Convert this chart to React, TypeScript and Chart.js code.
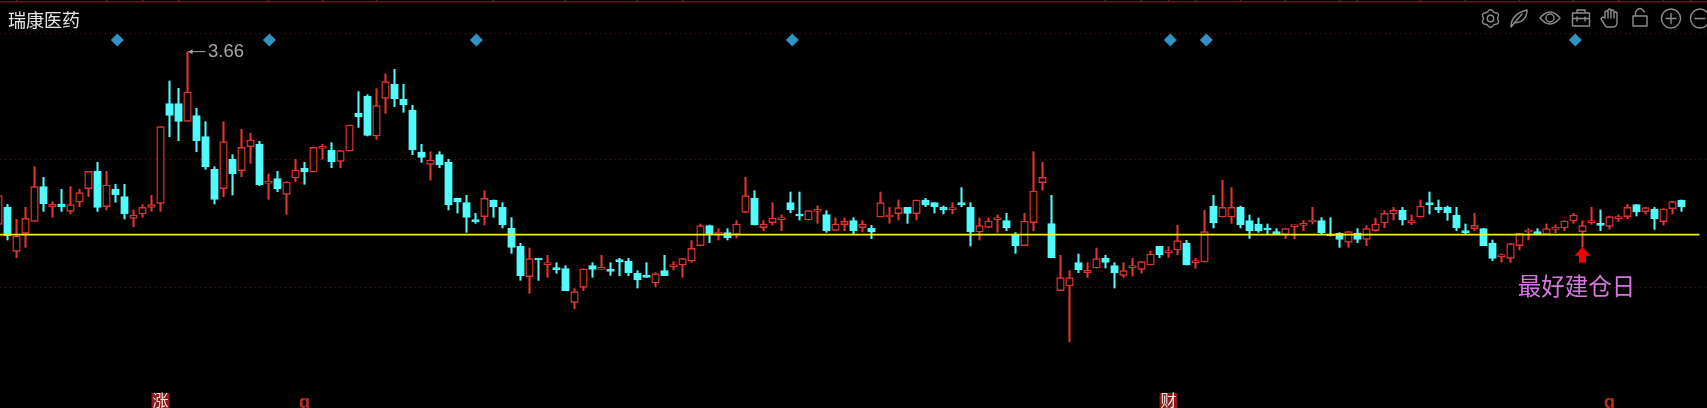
import React, { useEffect, useRef } from "react";
import { Chart, registerables } from "chart.js";

Chart.register(...registerables);

const stockName = "瑞康医药";
const signalText = "最好建仓日";

const opens = [
3.142,3.193,3.061,3.115,3.151,3.255,3.195,3.203,3.181,3.209,3.249,3.301,3.195,3.247,3.225,3.160,3.173,3.193,3.205,3.504,
3.504,3.451,3.468,3.405,3.307,3.249,3.337,3.303,3.375,3.382,3.265,3.279,3.232,3.281,3.311,3.299,3.370,3.364,3.331,3.362,
3.476,3.527,3.407,3.520,3.562,3.517,3.485,3.359,3.322,3.351,3.328,3.220,3.207,3.153,3.165,3.215,3.193,3.130,3.076,2.985,
3.040,3.021,3.010,3.009,2.908,2.953,3.018,3.007,3.005,3.033,3.031,2.995,2.987,2.966,3.003,3.015,3.020,3.032,3.078,3.138,
3.113,3.117,3.112,3.178,3.220,3.132,3.147,3.156,3.207,3.171,3.155,3.181,3.171,3.124,3.141,3.153,3.132,3.130,3.164,3.164,
3.174,3.193,3.174,3.215,3.207,3.193,3.186,3.207,3.193,3.119,3.133,3.156,3.153,3.109,3.078,3.147,3.267,3.144,2.943,2.957,
3.027,2.997,3.011,3.040,3.018,2.989,3.012,3.007,3.020,3.076,3.057,3.065,3.086,3.027,3.029,3.197,3.164,3.164,3.193,3.153,
3.143,3.129,3.120,3.111,3.135,3.139,3.149,3.153,3.110,3.115,3.088,3.116,3.097,3.123,3.146,3.173,3.184,3.147,3.164,3.207,
3.193,3.193,3.170,3.120,3.129,3.129,3.086,3.045,3.040,3.078,3.119,3.120,3.112,3.127,3.131,3.152,3.120,3.147,3.143,3.136,
3.159,3.165,3.201,3.180,3.188,3.150,3.189,3.215,
];

const closes = [
3.228,3.107,3.107,3.160,3.255,3.204,3.202,3.195,3.201,3.237,3.301,3.193,3.260,3.231,3.173,3.170,3.193,3.201,3.435,3.469,
3.451,3.539,3.393,3.315,3.217,3.390,3.294,3.373,3.395,3.261,3.270,3.249,3.269,3.305,3.299,3.373,3.375,3.330,3.363,3.440,
3.465,3.409,3.498,3.570,3.519,3.500,3.365,3.343,3.335,3.320,3.200,3.209,3.163,3.150,3.220,3.195,3.140,3.073,2.988,3.039,
3.035,3.027,3.006,2.943,2.940,3.008,3.007,3.011,3.001,3.030,2.997,2.975,2.983,2.994,2.988,3.019,3.039,3.070,3.138,3.112,
3.117,3.102,3.143,3.228,3.140,3.143,3.161,3.161,3.185,3.167,3.183,3.185,3.123,3.143,3.151,3.123,3.143,3.119,3.207,3.170,
3.192,3.175,3.215,3.200,3.195,3.185,3.192,3.200,3.119,3.138,3.152,3.161,3.131,3.078,3.152,3.242,3.283,3.042,2.982,2.982,
3.006,3.004,3.039,3.028,2.996,3.003,3.018,3.030,3.053,3.051,3.063,3.093,3.020,3.031,3.120,3.146,3.193,3.193,3.140,3.123,
3.122,3.125,3.112,3.129,3.139,3.143,3.153,3.117,3.107,3.097,3.120,3.097,3.129,3.143,3.175,3.184,3.155,3.153,3.197,3.201,
3.185,3.177,3.131,3.117,3.139,3.078,3.040,3.049,3.084,3.115,3.123,3.112,3.129,3.131,3.152,3.170,3.138,3.152,3.139,3.165,
3.163,3.193,3.179,3.192,3.159,3.188,3.210,3.195,
];

const highs = [
3.235,3.202,3.157,3.193,3.315,3.283,3.210,3.247,3.255,3.247,3.301,3.328,3.301,3.262,3.262,3.185,3.201,3.229,3.435,3.572,
3.550,3.660,3.490,3.450,3.315,3.450,3.351,3.427,3.415,3.391,3.293,3.301,3.270,3.337,3.328,3.373,3.382,3.387,3.364,3.440,
3.540,3.531,3.549,3.593,3.607,3.562,3.499,3.382,3.360,3.360,3.337,3.220,3.229,3.175,3.243,3.215,3.207,3.162,3.085,3.071,
3.040,3.049,3.027,3.018,2.949,3.009,3.027,3.049,3.027,3.040,3.040,3.003,3.027,2.997,3.049,3.030,3.040,3.093,3.143,3.140,
3.129,3.129,3.153,3.283,3.243,3.153,3.207,3.170,3.239,3.239,3.183,3.197,3.183,3.161,3.161,3.162,3.153,3.139,3.239,3.193,
3.215,3.193,3.215,3.220,3.207,3.197,3.207,3.252,3.207,3.161,3.161,3.170,3.175,3.117,3.175,3.360,3.328,3.229,3.049,3.003,
3.053,3.027,3.071,3.049,3.027,3.027,3.040,3.031,3.062,3.076,3.075,3.139,3.094,3.040,3.184,3.229,3.274,3.252,3.197,3.170,
3.161,3.143,3.129,3.129,3.139,3.153,3.193,3.162,3.162,3.117,3.121,3.129,3.138,3.161,3.183,3.193,3.193,3.170,3.215,3.239,
3.215,3.197,3.193,3.143,3.175,3.130,3.095,3.053,3.085,3.115,3.129,3.129,3.143,3.140,3.153,3.175,3.153,3.193,3.185,3.167,
3.170,3.202,3.201,3.193,3.193,3.189,3.211,3.215,
];

const lows = [
3.135,3.095,3.042,3.073,3.151,3.181,3.163,3.181,3.173,3.195,3.225,3.181,3.185,3.208,3.158,3.135,3.163,3.181,3.181,3.405,
3.393,3.451,3.360,3.307,3.203,3.225,3.230,3.285,3.325,3.258,3.217,3.240,3.172,3.270,3.262,3.299,3.337,3.312,3.312,3.362,
3.433,3.407,3.397,3.475,3.495,3.478,3.351,3.328,3.275,3.312,3.185,3.176,3.118,3.145,3.140,3.163,3.131,3.055,2.974,2.935,
2.974,2.983,2.995,2.943,2.889,2.943,2.983,3.007,2.989,2.988,2.988,2.951,2.983,2.955,2.988,3.005,2.983,3.028,3.078,3.087,
3.095,3.095,3.101,3.178,3.140,3.123,3.140,3.123,3.177,3.155,3.155,3.145,3.118,3.124,3.123,3.112,3.119,3.099,3.164,3.145,
3.155,3.145,3.155,3.195,3.176,3.173,3.173,3.195,3.077,3.095,3.132,3.118,3.123,3.055,3.078,3.123,3.244,3.042,2.943,2.789,
2.997,2.983,3.011,3.011,2.951,2.983,2.987,2.996,3.020,3.042,3.043,3.051,3.020,3.010,3.029,3.131,3.164,3.145,3.131,3.100,
3.118,3.112,3.112,3.099,3.099,3.123,3.143,3.112,3.107,3.073,3.073,3.087,3.078,3.121,3.132,3.155,3.140,3.141,3.164,3.173,
3.177,3.154,3.123,3.112,3.123,3.078,3.033,3.028,3.028,3.065,3.095,3.112,3.112,3.117,3.123,3.145,3.075,3.142,3.123,3.127,
3.151,3.159,3.167,3.173,3.127,3.140,3.173,3.181,
];

const diamondPositions = [13.2, 30.1, 53.1, 88.2, 130.2, 134.2, 175.2];
const diamondLevel = 3.695;
const supportLevel = 3.111;
const supportEnd = 189;
const gridLevels = [3.714, 3.336, 2.954];
const rulerLevel = 3.81;
const rulerTop = 3.815;
const rulerTicks = [2,12,16,20,30,36,42,55,63,71,76,123,127,130,133,138,143,149,151,158,163,169,175,180,185,188];
const signalIndex = 176;
const bottomMarks = [
  { index: 18, label: "涨", boxed: true },
  { index: 34, label: "g", boxed: false },
  { index: 130, label: "财", boxed: true },
  { index: 179, label: "g", boxed: false },
];

const RED = "#e2352f";
const CYAN = "#52fbfb";
const CJK = '"Noto Sans CJK SC", "Noto Sans", sans-serif';

function drawIcons(ctx: CanvasRenderingContext2D) {
  ctx.save();
  ctx.strokeStyle = "#8c8c8c";
  ctx.lineWidth = 1.4;
  ctx.lineJoin = "round";
  ctx.lineCap = "round";
  const path = (fn: () => void) => {
    ctx.beginPath();
    fn();
    ctx.stroke();
  };
  // gear
  path(() => {
    for (let a = 0; a <= 360; a += 6) {
      const t = (a * Math.PI) / 180;
      const r = 8 + 0.9 * Math.cos(6 * t);
      const x = 1490.5 + r * Math.cos(t + Math.PI / 2);
      const y = 18.5 + r * Math.sin(t + Math.PI / 2);
      if (a === 0) ctx.moveTo(x, y);
      else ctx.lineTo(x, y);
    }
    ctx.closePath();
  });
  path(() => ctx.arc(1490.5, 18.5, 3.2, 0, Math.PI * 2));
  // feather
  path(() => {
    ctx.moveTo(1511, 27);
    ctx.quadraticCurveTo(1511, 14, 1527, 10);
    ctx.quadraticCurveTo(1527, 22, 1514, 23);
    ctx.moveTo(1511, 27);
    ctx.lineTo(1522, 14);
  });
  // eye
  path(() => {
    ctx.moveTo(1540, 18);
    ctx.quadraticCurveTo(1550, 6, 1560, 18);
    ctx.quadraticCurveTo(1550, 30, 1540, 18);
  });
  path(() => ctx.arc(1550, 18, 4, 0, Math.PI * 2));
  // toolbox
  path(() => {
    ctx.rect(1572.5, 13, 17, 13);
    ctx.moveTo(1577, 13);
    ctx.lineTo(1577, 10);
    ctx.lineTo(1585, 10);
    ctx.lineTo(1585, 13);
    ctx.moveTo(1572.5, 18.5);
    ctx.lineTo(1589.5, 18.5);
    ctx.moveTo(1577, 17);
    ctx.lineTo(1577, 21);
    ctx.moveTo(1585, 17);
    ctx.lineTo(1585, 21);
  });
  // hand
  path(() => {
    ctx.moveTo(1606, 27);
    ctx.quadraticCurveTo(1603, 22, 1601, 19);
    ctx.quadraticCurveTo(1602, 16, 1605, 18);
    ctx.lineTo(1605, 12);
    ctx.quadraticCurveTo(1606.5, 10, 1608, 12);
    ctx.lineTo(1608, 18);
    ctx.lineTo(1608, 10);
    ctx.quadraticCurveTo(1609.5, 8, 1611, 10);
    ctx.lineTo(1611, 18);
    ctx.lineTo(1611, 11);
    ctx.quadraticCurveTo(1612.5, 9, 1614, 11);
    ctx.lineTo(1614, 18);
    ctx.lineTo(1614, 13);
    ctx.quadraticCurveTo(1615.5, 11, 1617, 13);
    ctx.lineTo(1617, 22);
    ctx.quadraticCurveTo(1617, 27, 1613, 27);
    ctx.lineTo(1606, 27);
  });
  // lock
  path(() => {
    ctx.rect(1633, 16, 14, 10);
    ctx.moveTo(1635.5, 16);
    ctx.lineTo(1635.5, 12);
    ctx.quadraticCurveTo(1640, 5, 1644.5, 12);
  });
  // plus and minus
  path(() => ctx.arc(1671, 18.5, 9.5, 0, Math.PI * 2));
  path(() => {
    ctx.moveTo(1666, 18.5);
    ctx.lineTo(1676, 18.5);
    ctx.moveTo(1671, 13.5);
    ctx.lineTo(1671, 23.5);
  });
  path(() => ctx.arc(1700, 18.5, 9.5, 0, Math.PI * 2));
  path(() => {
    ctx.moveTo(1695, 18.5);
    ctx.lineTo(1705, 18.5);
  });
  ctx.restore();
}

const annotations = {
  id: "annotations",
  afterDatasetsDraw(chart: any) {
    const { ctx, scales } = chart;
    const xs = scales.x;
    const ys = scales.y;
    ctx.save();

    // stock name
    ctx.fillStyle = "#e6e6e6";
    ctx.font = `18px ${CJK}`;
    ctx.textBaseline = "middle";
    ctx.textAlign = "left";
    ctx.fillText(stockName, 8, 20);

    // highest price callout
    const peak = Math.max(...highs);
    const peakIndex = highs.indexOf(peak);
    const px = xs.getPixelForValue(peakIndex);
    const py = ys.getPixelForValue(peak);
    ctx.strokeStyle = "#a8a8a8";
    ctx.fillStyle = "#a8a8a8";
    ctx.lineWidth = 1;
    ctx.beginPath();
    ctx.moveTo(px + 1, py);
    ctx.lineTo(px + 18, py);
    ctx.stroke();
    ctx.beginPath();
    ctx.moveTo(px + 1, py);
    ctx.lineTo(px + 5, py - 2.5);
    ctx.lineTo(px + 5, py + 2.5);
    ctx.closePath();
    ctx.fill();
    ctx.font = '18.5px "Liberation Sans", sans-serif';
    ctx.fillText(peak.toFixed(2), px + 20.5, py);

    // signal arrow and caption
    const sx = xs.getPixelForValue(signalIndex);
    const tip = ys.getPixelForValue(lows[signalIndex]) + 1;
    ctx.fillStyle = "#f00000";
    ctx.beginPath();
    ctx.moveTo(sx, tip - 1);
    ctx.lineTo(sx + 8, tip + 8);
    ctx.lineTo(sx + 3.5, tip + 8);
    ctx.lineTo(sx + 3.5, tip + 15);
    ctx.lineTo(sx - 3.5, tip + 15);
    ctx.lineTo(sx - 3.5, tip + 8);
    ctx.lineTo(sx - 8, tip + 8);
    ctx.closePath();
    ctx.fill();
    ctx.fillStyle = "#d478dc";
    ctx.font = `23.5px ${CJK}`;
    ctx.textAlign = "center";
    ctx.fillText(signalText, sx - 6, 286);

    // bottom marks, cut off by the lower edge of the picture
    for (const mark of bottomMarks) {
      const mx = xs.getPixelForValue(mark.index);
      if (mark.boxed) {
        ctx.fillStyle = "#8e1717";
        ctx.fillRect(mx - 9, 393, 18, 16);
        ctx.fillStyle = "#f4e4e4";
        ctx.font = `16px ${CJK}`;
        ctx.textAlign = "center";
        ctx.textBaseline = "top";
        ctx.fillText(mark.label, mx, 392);
      } else {
        ctx.fillStyle = "#c42a2a";
        ctx.font = 'bold 18px "Liberation Sans", sans-serif';
        ctx.textAlign = "center";
        ctx.textBaseline = "alphabetic";
        ctx.fillText(mark.label, mx, 408);
      }
    }
    ctx.restore();
    drawIcons(ctx);
  },
};

export default function App() {
  const ref = useRef<HTMLCanvasElement>(null);
  useEffect(() => {
    const indices = opens.map((_, i) => i);
    const colors = indices.map((i) => (closes[i] >= opens[i] ? RED : CYAN));
    const fills = indices.map((i) => (closes[i] >= opens[i] ? "#000000" : CYAN));
    const chart = new Chart(ref.current as HTMLCanvasElement, {
      type: "bar",
      data: {
        datasets: [
          {
            type: "line",
            label: "support",
            data: [
              { x: 0, y: supportLevel },
              { x: supportEnd, y: supportLevel },
            ],
            borderColor: "#f0f020",
            borderWidth: 1.6,
            pointRadius: 0,
            order: 0,
          },
          {
            type: "scatter",
            label: "signals",
            data: diamondPositions.map((x) => ({ x, y: diamondLevel })),
            pointStyle: "rectRot",
            pointRadius: 6.5,
            backgroundColor: "#2f93c4",
            borderWidth: 0,
            showLine: false,
            order: 1,
          },
          {
            type: "bar",
            label: "bodies",
            data: indices.map((i) => ({ x: i, y: [opens[i], closes[i]] })),
            backgroundColor: fills,
            borderColor: colors,
            borderWidth: 1.4,
            borderSkipped: false,
            barThickness: 7.6,
            minBarLength: 2,
            grouped: false,
            order: 2,
          },
          {
            type: "bar",
            label: "wicks",
            data: indices.map((i) => ({ x: i, y: [lows[i], highs[i]] })),
            backgroundColor: colors,
            borderWidth: 0,
            barThickness: 1.4,
            grouped: false,
            order: 3,
          },
          {
            type: "line",
            label: "ruler",
            data: [
              { x: 0, y: rulerLevel },
              { x: 190, y: rulerLevel },
            ],
            borderColor: "#701010",
            borderWidth: 1.5,
            pointRadius: 0,
            order: 4,
          },
          {
            type: "bar",
            label: "rulerTicks",
            data: rulerTicks.map((x) => ({ x, y: [rulerLevel, rulerTop] })),
            backgroundColor: "#801414",
            borderWidth: 0,
            barThickness: 1,
            grouped: false,
            order: 5,
          },
        ],
      } as any,
      options: {
        animation: false,
        responsive: false,
        devicePixelRatio: 1,
        layout: { padding: 0, autoPadding: false },
        plugins: { legend: { display: false }, tooltip: { enabled: false } },
        events: [],
        scales: {
          x: { type: "linear", display: false, offset: false, min: 1.5 / 9, max: 1708.5 / 9 },
          y: {
            type: "linear",
            min: 2.591,
            max: 3.815,
            afterBuildTicks: (s: any) => {
              s.ticks = gridLevels.map((value) => ({ value }));
            },
            ticks: { display: false },
            border: { display: false, dash: [1, 4] },
            grid: { color: "#6a1414", lineWidth: 1, drawTicks: false },
          },
        },
      } as any,
      plugins: [annotations],
    });
    return () => chart.destroy();
  }, []);
  return (
    <div style={{ position: "fixed", left: 0, top: 0, width: 1707, height: 408, background: "#000", overflow: "hidden" }}>
      <canvas ref={ref} width={1707} height={408} style={{ display: "block" }} />
    </div>
  );
}
